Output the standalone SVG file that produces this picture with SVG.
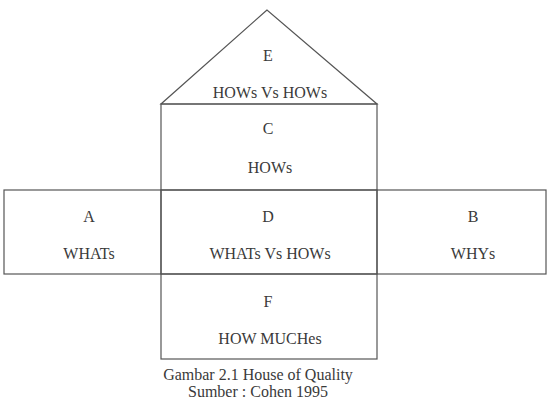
<svg xmlns="http://www.w3.org/2000/svg" width="551" height="405" viewBox="0 0 551 405">
<style>
.ln{fill:none;stroke:#555;stroke-width:1.2}
.t{font-family:"Liberation Serif","Times New Roman",serif;font-size:16px;fill:#3a3a3a;text-anchor:middle}
</style>
<rect width="551" height="405" fill="#fff"/>
<g id="connectors"></g>
<g id="E">
<polygon class="ln" points="267,10 161,104 377,104"/>
<text class="t" x="268" y="61">E</text>
<text class="t" x="270" y="98">HOWs Vs HOWs</text>
</g>
<g id="C">
<rect class="ln" x="161" y="104" width="216" height="86"/>
<text class="t" x="268" y="134">C</text>
<text class="t" x="270" y="173">HOWs</text>
</g>
<g id="A">
<rect class="ln" x="4" y="190" width="157" height="84"/>
<text class="t" x="89" y="222">A</text>
<text class="t" x="89" y="259">WHATs</text>
</g>
<g id="D">
<rect class="ln" x="161" y="190" width="216" height="84"/>
<text class="t" x="268" y="222">D</text>
<text class="t" x="270" y="259">WHATs Vs HOWs</text>
</g>
<g id="B">
<rect class="ln" x="377" y="190" width="169" height="84"/>
<text class="t" x="473" y="222">B</text>
<text class="t" x="473" y="259">WHYs</text>
</g>
<g id="F">
<rect class="ln" x="161" y="274" width="216" height="85"/>
<text class="t" x="268" y="307">F</text>
<text class="t" x="270" y="344">HOW MUCHes</text>
</g>
<g id="caption">
<text class="t" x="258" y="380">Gambar 2.1 House of Quality</text>
<text class="t" x="258" y="397">Sumber : Cohen 1995</text>
</g>
</svg>
